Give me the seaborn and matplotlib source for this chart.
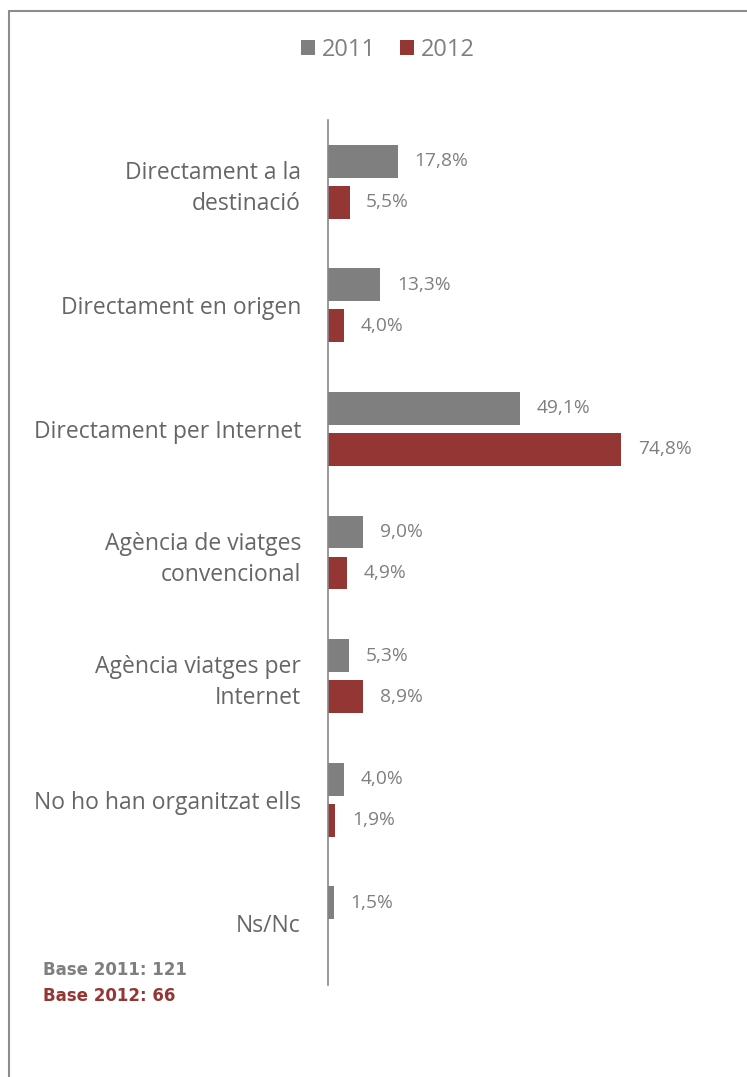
import matplotlib
matplotlib.use("Agg")
import matplotlib.pyplot as plt
from matplotlib.lines import Line2D
from matplotlib.patches import Patch
import seaborn as sns
import pandas as pd
import numpy as np

categories = [
    "Directament a la\ndestinació",
    "Directament en origen",
    "Directament per Internet",
    "Agència de viatges\nconvencional",
    "Agència viatges per\nInternet",
    "No ho han organitzat ells",
    "Ns/Nc",
]
values_2011 = [17.8, 13.3, 49.1, 9.0, 5.3, 4.0, 1.5]
values_2012 = [5.5, 4.0, 74.8, 4.9, 8.9, 1.9, np.nan]
years = ["2011", "2012"]
colors = {"2011": "#7f7f7f", "2012": "#943634"}
base_notes = [("Base 2011: 121", "#7f7f7f"), ("Base 2012: 66", "#943634")]

df = pd.DataFrame({
    "cat": categories * 2,
    "year": [years[0]] * len(categories) + [years[1]] * len(categories),
    "value": values_2011 + values_2012,
})

sns.set_style("white")
plt.rcParams["font.family"] = ["Open Sans", "DejaVu Sans"]

W, H = 747, 1077
fig = plt.figure(figsize=(W / 100, H / 100), dpi=100)
ax_left, ax_top, ax_bottom = 328, 120, 985
ax = fig.add_axes([ax_left / W, 1 - ax_bottom / H, (W - ax_left) / W, (ax_bottom - ax_top) / H])

sns.barplot(data=df, y="cat", x="value", hue="year", order=categories,
            hue_order=years, palette=colors, orient="h", width=0.664, gap=0.2,
            ax=ax, legend=False, saturation=1, edgecolor="none")

px_per_unit = 3.917
ax.set_xlim(0, (W - ax_left) / px_per_unit)
ax.set_ylim(len(categories) - 0.5, -0.5)

for spine in ["top", "right", "bottom"]:
    ax.spines[spine].set_visible(False)
ax.spines["left"].set_color("#868686")
ax.spines["left"].set_linewidth(1.2)
ax.set_xticks([])
ax.set_xlabel("")
ax.set_ylabel("")
ax.tick_params(axis="y", length=0, pad=19.5)
ax.set_yticks(range(len(categories)))
ax.set_yticklabels(categories, fontsize=16.5, color="#666666", linespacing=1.4)
for lab in ax.get_yticklabels():
    lab.set_horizontalalignment("right")
    lab.set_multialignment("right")

# value labels next to each bar
for container, year in zip(ax.containers, years):
    for bar in container:
        w = bar.get_width()
        if np.isnan(w) or w == 0:
            continue
        y = bar.get_y() + bar.get_height() / 2
        ax.annotate(f"{w:.1f}%".replace(".", ","), xy=(w, y), xytext=(12, 0),
                    textcoords="offset points", va="center", ha="left",
                    fontsize=13.8, color="#7f7f7f")

# legend on top
handles = [Patch(facecolor=colors[y], edgecolor="none") for y in years]
fig.legend(handles, years, loc="center", bbox_to_anchor=(388 / W, 1 - 50 / H),
           ncol=2, frameon=False, fontsize=17, handlelength=0.6, handleheight=0.6,
           handletextpad=0.3, columnspacing=1.0, labelcolor="#7f7f7f")

# sample size notes
for i, (txt, col) in enumerate(base_notes):
    fig.text(43 / W, 1 - (970 + i * 26) / H, txt, fontsize=12, fontweight="bold",
             color=col, family="DejaVu Sans", va="center", ha="left")

# outer frame (top and left edges)
fig.add_artist(Line2D([9 / W, 9 / W], [0, 1 - 11 / H], transform=fig.transFigure,
                      color="#8c8c8c", linewidth=1.5))
fig.add_artist(Line2D([9 / W, 1], [1 - 11 / H, 1 - 11 / H], transform=fig.transFigure,
                      color="#8c8c8c", linewidth=1.5))

fig.savefig("out.png", dpi=100, facecolor="white")
